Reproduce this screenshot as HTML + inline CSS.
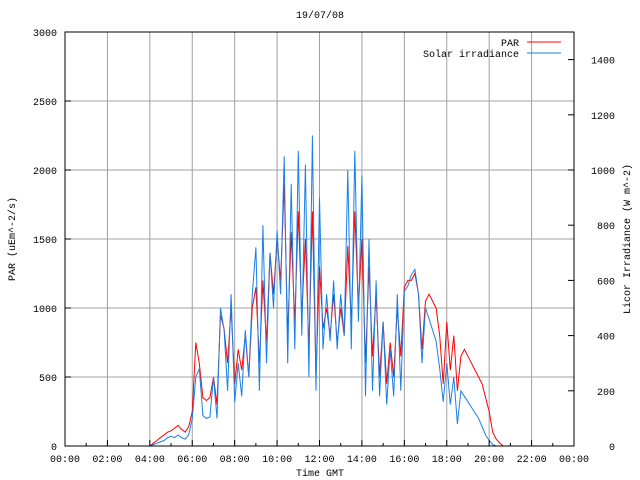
<!DOCTYPE html>
<html><head><meta charset="utf-8"><style>
body{margin:0;background:#fff;}
svg{display:block;font-family:"Liberation Mono",monospace;font-size:10px;}
</style></head><body>
<svg id="chart" width="640" height="480" xmlns="http://www.w3.org/2000/svg">
<rect x="0" y="0" width="640" height="480" fill="#fff"/>
<g id="grid"></g>
<g id="series"></g>
<rect x="65" y="32" width="509" height="414" fill="none" stroke="#000" stroke-width="1"/>
<g id="axes"></g>
<text x="320" y="18" text-anchor="middle">19/07/08</text>
<text x="320" y="476" text-anchor="middle">Time GMT</text>
<text transform="translate(15,239) rotate(-90)" text-anchor="middle">PAR (uEm^-2/s)</text>
<text transform="translate(630,239) rotate(-90)" text-anchor="middle">Licor Irradiance (W m^-2)</text>
<g>
<text x="519" y="46" text-anchor="end">PAR</text>
<line x1="527" y1="42" x2="561" y2="42" stroke="#ff0000"/>
<text x="519" y="57" text-anchor="end">Solar irradiance</text>
<line x1="527" y1="53" x2="561" y2="53" stroke="#1a80e6"/>
</g>
</svg>
<script>
const xTickLabels=["00:00","02:00","04:00","06:00","08:00","10:00","12:00","14:00","16:00","18:00","20:00","22:00","00:00"];
const yLeftTicks=[0,500,1000,1500,2000,2500,3000];
const yRightTicks=[200,400,600,800,1000,1200,1400];
const startHour=4, stepMinutes=10;
const parValues=[0,20,40,60,80,100,110,130,150,120,100,140,250,750,600,350,330,350,500,300,950,850,600,1000,450,700,550,800,500,1000,1150,600,1200,750,1400,1100,1500,1200,1900,800,1550,900,1700,950,1500,700,1700,500,1300,850,1000,800,1100,750,1000,800,1450,900,1700,1000,1500,600,1300,650,1100,500,900,450,750,500,1000,650,1150,1200,1200,1250,1100,700,1050,1100,1050,1000,800,450,900,550,800,400,650,700,650,600,550,500,450,350,250,100,50,20,0];
const solarValues=[0,5,10,15,20,30,35,30,40,30,25,40,100,250,280,110,100,105,250,100,500,420,200,550,160,300,180,420,250,550,720,200,800,300,700,500,780,550,1050,300,950,350,1070,400,1020,250,1125,200,900,350,550,380,600,350,550,400,1000,350,1070,450,980,180,750,200,600,180,450,150,350,180,550,200,560,580,620,640,550,300,500,460,420,380,280,160,300,150,250,80,200,180,160,140,120,100,70,40,20,5,0,0,0];
const L=65,R=574,T=32,B=446;
const xs=h=>L+h/24*(R-L);
const yL=v=>B-v/3000*(B-T);
const yR=v=>B-v/1500*(B-T);
const NS="http://www.w3.org/2000/svg";
function mk(tag,attrs,parent){const e=document.createElementNS(NS,tag);for(const k in attrs)e.setAttribute(k,attrs[k]);parent.appendChild(e);return e;}
const grid=document.getElementById('grid'),axes=document.getElementById('axes'),series=document.getElementById('series');
xTickLabels.forEach((lab,i)=>{const x=xs(i*2);
 if(i>0&&i<xTickLabels.length-1){const g=mk('line',{x1:x,y1:T,x2:x,y2:B,stroke:'#a0a0a0'},grid);
 
 }
 const t=mk('line',{x1:x,y1:B,x2:x,y2:B-6,stroke:'#000'},axes);
 
 
 if(i<xTickLabels.length-1){const m=mk('line',{x1:xs(i*2+1),y1:B,x2:xs(i*2+1),y2:B-3,stroke:'#000'},axes);
 
 }
 const tx=mk('text',{x:x,y:B+16,'text-anchor':'middle'},axes);tx.textContent=lab;
 
 
});
yLeftTicks.forEach(v=>{const y=yL(v);
 if(v>0&&v<3000){const g=mk('line',{x1:L,y1:y,x2:R,y2:y,stroke:'#a0a0a0'},grid);
 
 }
 const t=mk('line',{x1:L,y1:y,x2:L+6,y2:y,stroke:'#000'},axes);
 
 
 const tx=mk('text',{x:L-8,y:y+4,'text-anchor':'end'},axes);tx.textContent=v;
 
 
});
[0].concat(yRightTicks).forEach(v=>{const y=yR(v);
 const t=mk('line',{x1:R,y1:y,x2:R-6,y2:y,stroke:'#000'},axes);
 
 
 const tx=mk('text',{x:R+41,y:y+4,'text-anchor':'end'},axes);tx.textContent=v;
 
 
});
function pts(arr,yf){return arr.map((v,i)=>xs(startHour+i*stepMinutes/60).toFixed(1)+','+yf(v).toFixed(1)).join(' ');}
const pr=mk('polyline',{points:pts(parValues,yL),fill:'none',stroke:'#ff0000','stroke-width':1},series);


const sl=mk('polyline',{points:pts(solarValues,yR),fill:'none',stroke:'#1a80e6','stroke-width':1},series);


</script>
</body></html>
